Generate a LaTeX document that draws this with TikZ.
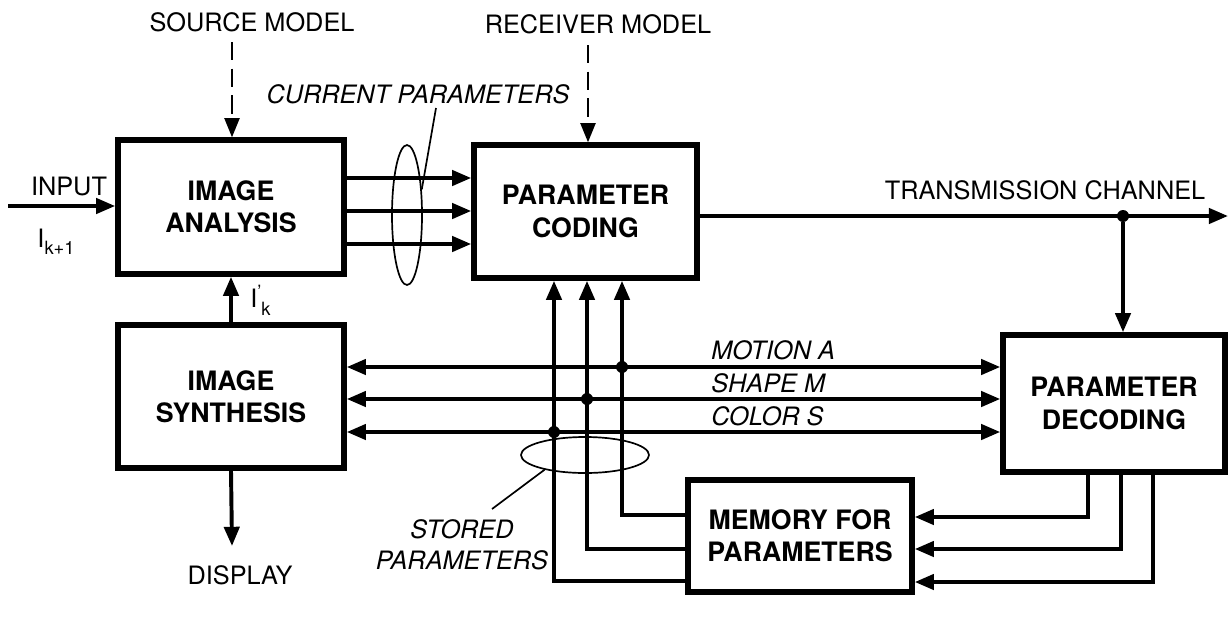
\documentclass[tikz,border=0pt]{standalone}
\usepackage{fontspec}
\setmainfont{TeX Gyre Heros}
\usetikzlibrary{arrows.meta,shapes.geometric}
\begin{document}
\begin{tikzpicture}[x=0.025cm,y=-0.025cm,
  box/.style={draw,line width=3.9pt,inner sep=0pt,align=center,font=\fontsize{19}{23}\selectfont\bfseries},
  lbl/.style={inner sep=0pt,font=\fontsize{18}{22}\selectfont},
  ilbl/.style={inner sep=0pt,font=\fontsize{18}{22}\selectfont\itshape},
  tip/.tip={Triangle[length=0.48cm,width=0.38cm]},
  arr/.style={line width=2.8pt,-tip},
  darr/.style={line width=2.8pt,tip-tip},
  dash arr/.style={line width=1.3pt,dash pattern=on 13pt off 6pt,-tip},
  thin/.style={line width=1.2pt},
  dot/.style={circle,fill,inner sep=0pt,minimum size=0.3cm}]
\useasboundingbox (0,0) rectangle (1228,619);
% boxes
\node[box,minimum width=5.65cm,minimum height=3.35cm] (ia) at (231,207) {IMAGE\\ANALYSIS};
\node[box,minimum width=5.575cm,minimum height=3.325cm] (pc) at (585.5,211.5) {PARAMETER\\CODING};
\node[box,minimum width=5.65cm,minimum height=3.575cm] (is) at (231,396.5) {IMAGE\\SYNTHESIS};
\node[box,minimum width=5.55cm,minimum height=3.425cm] (pd) at (1114,403.5) {PARAMETER\\DECODING};
\node[box,minimum width=5.6cm,minimum height=2.8cm] (mem) at (800,536) {MEMORY FOR\\PARAMETERS};
% top labels
\node[lbl] (src) at (252,22) {SOURCE MODEL};
\node[lbl] (rcv) at (598,24) {RECEIVER MODEL};
\coordinate (srcx) at (232,42);
\draw[dash arr] (srcx) -- (ia.north -| srcx);
\coordinate (rcvx) at (588,45);
\draw[dash arr] (rcvx) -- (pc.north -| rcvx);
% input
\coordinate (inp) at (8,206);
\draw[arr] (inp) -- (ia.west |- inp);
\node[lbl] (inl) at (69,186) {INPUT};
\node[lbl] (ikl) at (56,242) {I\raisebox{-0.55ex}{\fontsize{13}{15}\selectfont k+1}};
% IA -> PC
\foreach \yy in {178,211,244}{
  \draw[arr] (ia.east |- 0,\yy) -- (pc.west |- 0,\yy);
}
% current parameters ellipse
\node[draw,thin,ellipse,minimum width=0.75cm,minimum height=3.5cm,inner sep=0pt] (cpe) at (407,215) {};
\node[ilbl] (cpl) at (418,94) {CURRENT PARAMETERS};
\draw[thin] (cpe.60) -- (436,108);
% IS -> IA
\draw[arr] (is.north) -- (ia.south);
\node[lbl,anchor=west] (ipk) at (250,300) {I\raisebox{0.7ex}{\fontsize{13}{15}\selectfont ’}\raisebox{-0.6ex}{\fontsize{13}{15}\selectfont k}};
% display
\coordinate (disp) at (232,546);
\draw[arr] (is.south) -- (disp);
\node[lbl] (displ) at (240,575) {DISPLAY};
% transmission channel
\coordinate (tcend) at (1228,216);
\draw[arr] (pc.east |- tcend) -- (tcend);
\node[lbl] (tcl) at (1045,190) {TRANSMISSION CHANNEL};
\node[dot] (tcd) at (1123,216) {};
\draw[arr] (tcd) -- (pd.north -| tcd);
% parameter lines
\foreach \yy in {367,399,432}{
  \draw[darr] (is.east |- 0,\yy) -- (pd.west |- 0,\yy);
}
\node[ilbl,anchor=base west] (ma) at (711,359) {MOTION A};
\node[ilbl,anchor=base west] (sm) at (711,392) {SHAPE M};
\node[ilbl,anchor=base west] (cs) at (711,425) {COLOR S};
% memory -> PC
\draw[arr] (mem.west |- 0,515) -| (pc.south -| 622,0);
\draw[arr] (mem.west |- 0,549) -| (pc.south -| 587,0);
\draw[arr] (mem.west |- 0,581) -| (pc.south -| 554,0);
\node[dot] (d1) at (622,367) {};
\node[dot] (d2) at (587,399) {};
\node[dot] (d3) at (554,432) {};
% PD -> memory
\draw[arr] (pd.south -| 1088,0) |- (mem.east |- 0,517);
\draw[arr] (pd.south -| 1121,0) |- (mem.east |- 0,549);
\draw[arr] (pd.south -| 1153,0) |- (mem.east |- 0,582);
% stored parameters
\node[draw,thin,ellipse,minimum width=3.2cm,minimum height=0.9cm,inner sep=0pt] (spe) at (585,455) {};
\node[ilbl,align=center] (spl) at (462,545) {STORED\\PARAMETERS};
\draw[thin] (spe.200) -- (492,509);
\end{tikzpicture}
\end{document}
